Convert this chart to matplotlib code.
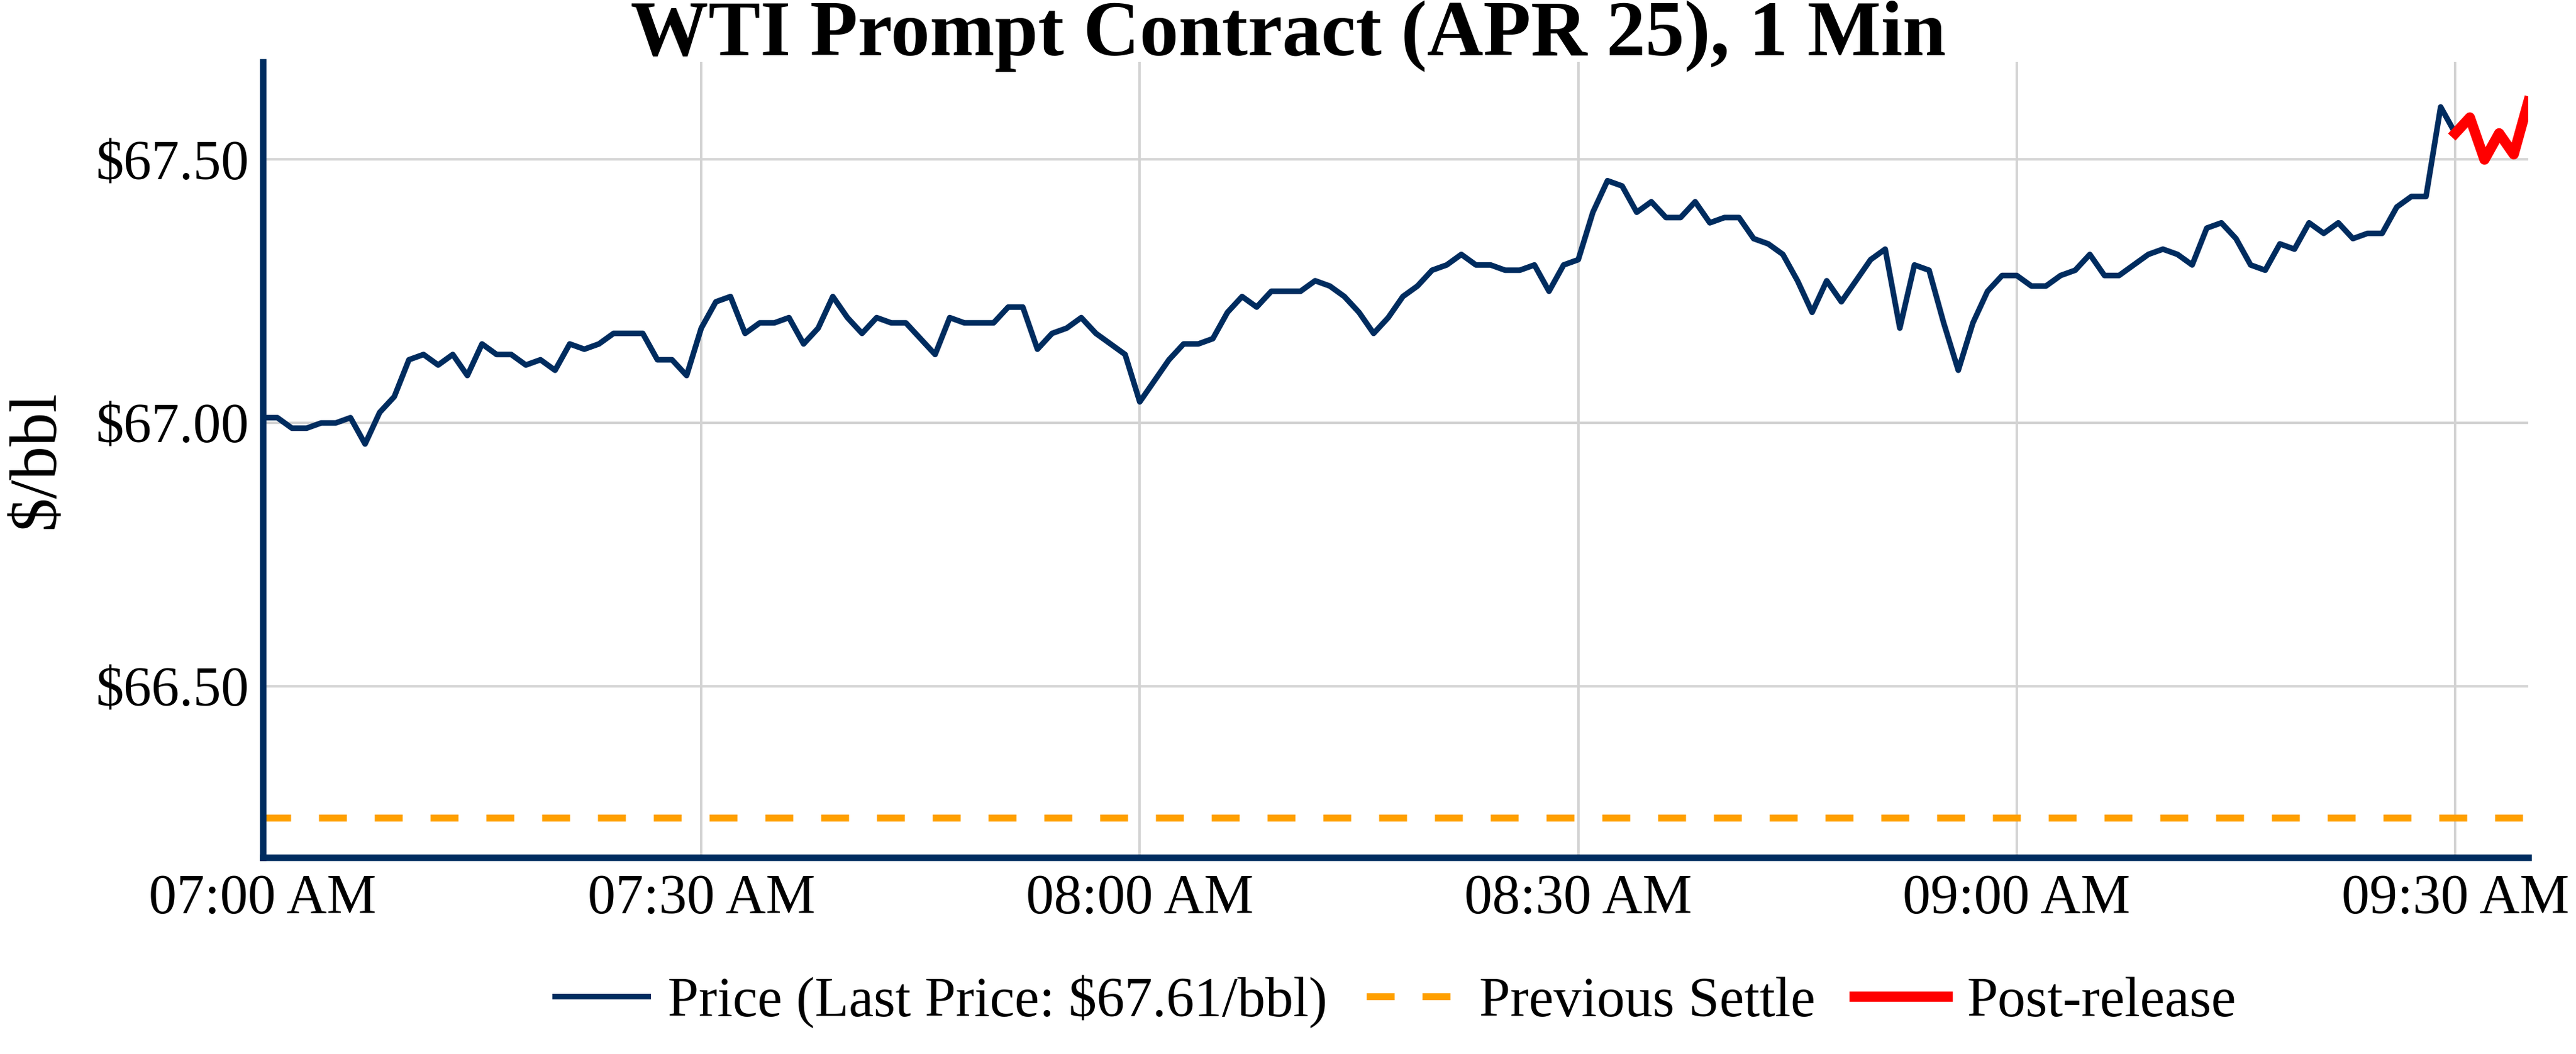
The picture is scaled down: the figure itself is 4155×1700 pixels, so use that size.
import pandas as pd
import matplotlib
matplotlib.use("Agg")
import matplotlib.pyplot as plt
import matplotlib.dates as mdates
from matplotlib.ticker import FuncFormatter

# ── Datos (1 min, 07:00 - 09:35) ───────────────────────────────────────────────
prices = [
    # 07:00 - 07:30
    67.01, 67.01, 66.99, 66.99, 67.00, 67.00, 67.01, 66.96, 67.02, 67.05,
    67.12, 67.13, 67.11, 67.13, 67.09, 67.15, 67.13, 67.13, 67.11, 67.12,
    67.10, 67.15, 67.14, 67.15, 67.17, 67.17, 67.17, 67.12, 67.12, 67.09,
    67.18,
    # 07:31 - 08:00
    67.23, 67.24, 67.17, 67.19, 67.19, 67.20, 67.15, 67.18, 67.24, 67.20,
    67.17, 67.20, 67.19, 67.19, 67.16, 67.13, 67.20, 67.19, 67.19, 67.19,
    67.22, 67.22, 67.14, 67.17, 67.18, 67.20, 67.17, 67.15, 67.13, 67.04,
    # 08:01 - 08:30
    67.08, 67.12, 67.15, 67.15, 67.16, 67.21, 67.24, 67.22, 67.25, 67.25,
    67.25, 67.27, 67.26, 67.24, 67.21, 67.17, 67.20, 67.24, 67.26, 67.29,
    67.30, 67.32, 67.30, 67.30, 67.29, 67.29, 67.30, 67.25, 67.30, 67.31,
    # 08:31 - 09:00
    67.40, 67.46, 67.45, 67.40, 67.42, 67.39, 67.39, 67.42, 67.38, 67.39,
    67.39, 67.35, 67.34, 67.32, 67.27, 67.21, 67.27, 67.23, 67.27, 67.31,
    67.33, 67.18, 67.30, 67.29, 67.19, 67.10, 67.19, 67.25, 67.28, 67.28,
    # 09:01 - 09:30
    67.26, 67.26, 67.28, 67.29, 67.32, 67.28, 67.28, 67.30, 67.32, 67.33,
    67.32, 67.30, 67.37, 67.38, 67.35, 67.30, 67.29, 67.34, 67.33, 67.38,
    67.36, 67.38, 67.35, 67.36, 67.36, 67.41, 67.43, 67.43, 67.60, 67.55,
    # 09:31 - 09:35
    67.58, 67.50, 67.55, 67.51, 67.61,
]
start_time = "2025-03-05 07:00"
release_time = "2025-03-05 09:30"
previous_settle = 66.25
last_price = prices[-1]

times = pd.date_range(start_time, periods=len(prices), freq="1min")
series = pd.Series(prices, index=times)
post = series[series.index >= pd.Timestamp(release_time)]

BLUE = "#002C5F"
plt.rcParams["font.family"] = ["Liberation Serif", "DejaVu Serif"]

fig = plt.figure(figsize=(4155 / 270, 1700 / 270), dpi=270)
ax = fig.add_axes([0.102, 0.1865, 0.8795, 0.7545])

ax.plot(series.index, series.values, color=BLUE, lw=2.4,
        label=f"Price (Last Price: ${last_price:.2f}/bbl)", zorder=3)
ax.axhline(previous_settle, color="#FFA000", lw=3.0, ls=(0, (4, 4)),
           label="Previous Settle", zorder=2)
ax.plot(post.index, post.values, color="#FF0000", lw=4.4,
        label="Post-release", zorder=4)

ax.set_xlim(times[0], times[-1])
ax.set_ylim(66.175, 67.685)
ax.set_yticks([66.5, 67.0, 67.5])
ax.yaxis.set_major_formatter(FuncFormatter(lambda v, _: f"${v:.2f}"))
ax.xaxis.set_major_locator(mdates.MinuteLocator(byminute=[0, 30]))
ax.xaxis.set_major_formatter(mdates.DateFormatter("%I:%M %p"))

ax.grid(True, color="#D3D3D3", lw=1.05)
ax.set_axisbelow(True)
ax.tick_params(length=0, labelsize=24)
ax.tick_params(axis="x", pad=7)
ax.tick_params(axis="y", pad=6)
ax.spines[["top", "right"]].set_visible(False)
for side in ["left", "bottom"]:
    ax.spines[side].set_color(BLUE)
    ax.spines[side].set_linewidth(2.8)

ax.set_ylabel("$/bbl", fontsize=29, labelpad=12)
fig.text(0.5, 0.948, "WTI Prompt Contract (APR 25), 1 Min", fontsize=33.5,
         fontweight="bold", ha="center", va="baseline")

ax.legend(loc="center", bbox_to_anchor=(0.5, -0.181), ncol=3,
          frameon=False, fontsize=24, handlelength=1.67, columnspacing=0.7,
          handletextpad=0.35)

fig.savefig("out.png", dpi=270)
